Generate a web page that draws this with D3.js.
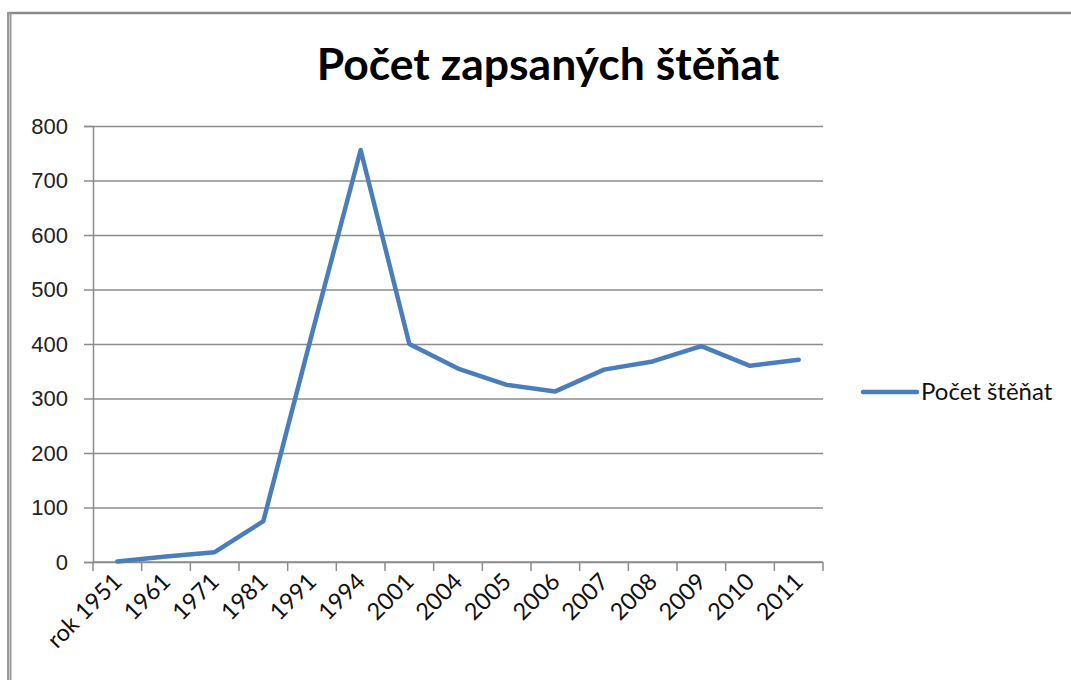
<!DOCTYPE html>
<html>
<head>
<meta charset="utf-8">
<script src="https://cdn.jsdelivr.net/npm/d3@7"></script>
<style>
  body { margin: 0; background: #fff; }
  svg { display: block; }
</style>
</head>
<body>
<svg id="chart"></svg>
<script>
// data
const years = ["rok 1951", "1961", "1971", "1981", "1991", "1994", "2001", "2004",
               "2005", "2006", "2007", "2008", "2009", "2010", "2011"];
const puppies = [1, 10, 18, 75, 419, 756, 400, 355, 325, 313, 353, 368, 396, 360, 371];
const yTicks = [0, 100, 200, 300, 400, 500, 600, 700, 800];
const seriesName = "Počet štěňat";
const title = "Počet zapsaných štěňat";

const width = 1071, height = 680;
const margin = { top: 126, right: 248, bottom: 118, left: 93 };
const blue = "#4a7ebb";
const grid = "#8c8c8c";

const svg = d3.select("#chart")
    .attr("width", width)
    .attr("height", height);

// frame of the chart area
svg.append("line").attr("x1", 9).attr("x2", width).attr("y1", 13).attr("y2", 13)
    .attr("stroke", "#8a8a8a").attr("stroke-width", 2.5);
svg.append("line").attr("x1", 10.5).attr("x2", 10.5).attr("y1", 12).attr("y2", height)
    .attr("stroke", "#9a9a9a").attr("stroke-width", 2);
svg.append("line").attr("x1", 8).attr("x2", 8).attr("y1", 12).attr("y2", height)
    .attr("stroke", "#333").attr("stroke-width", 1);

svg.append("text")
    .attr("x", 548)
    .attr("y", 80)
    .attr("text-anchor", "middle")
    .style("font-family", "Lato, 'Open Sans', sans-serif")
    .style("font-weight", "bold")
    .style("font-size", "44.5px")
    .text(title);

const x = d3.scaleBand()
    .domain(years)
    .range([margin.left, width - margin.right]);

const y = d3.scaleLinear()
    .domain([0, 800])
    .range([height - margin.bottom, margin.top]);

// horizontal gridlines + y axis
const yAxis = svg.append("g")
    .attr("transform", `translate(${margin.left},0)`)
    .call(d3.axisLeft(y).tickValues(yTicks).tickSize(9).tickPadding(16));
yAxis.select(".domain").attr("stroke", grid).attr("stroke-width", 1.5);
yAxis.selectAll(".tick line").attr("stroke", grid).attr("stroke-width", 1.5);
yAxis.selectAll(".tick").append("line")
    .attr("x1", 0)
    .attr("x2", width - margin.right - margin.left)
    .attr("stroke", grid).attr("stroke-width", 1.5);
yAxis.selectAll(".tick text")
    .attr("fill", "#222")
    .style("font-family", "'Liberation Sans', Arial, sans-serif")
    .style("font-size", "22px");

// x axis with ticks at band edges
const xAxis = svg.append("g")
    .attr("transform", `translate(0,${y(0)})`);
xAxis.append("line")
    .attr("x1", margin.left).attr("x2", width - margin.right)
    .attr("stroke", grid).attr("stroke-width", 1.5);
const edges = years.map(d => x(d)).concat([x(years[years.length - 1]) + x.bandwidth()]);
xAxis.selectAll(".edge")
    .data(edges)
    .enter().append("line")
    .attr("class", "edge")
    .attr("x1", d => d).attr("x2", d => d)
    .attr("y1", 0).attr("y2", 9)
    .attr("stroke", grid).attr("stroke-width", 1.5);
xAxis.selectAll(".lbl")
    .data(years)
    .enter().append("text")
    .attr("class", "lbl")
    .attr("text-anchor", "end")
    .attr("transform", d => `translate(${x(d) + x.bandwidth() / 2 + 6},${21}) rotate(-45)`)
    .attr("fill", "#111")
    .style("font-family", "Lato, 'Open Sans', sans-serif")
    .style("font-size", "23.5px")
    .text(d => d);

// the series
const line = d3.line()
    .x((d, i) => x(years[i]) + x.bandwidth() / 2)
    .y(d => y(d));

svg.append("path")
    .datum(puppies)
    .attr("d", line)
    .attr("fill", "none")
    .attr("stroke", blue)
    .attr("stroke-width", 4.5)
    .attr("stroke-linejoin", "round")
    .attr("stroke-linecap", "round");

// legend
const legend = svg.append("g").attr("transform", "translate(863,392)");
legend.append("line")
    .attr("x1", 0).attr("x2", 54)
    .attr("stroke", blue).attr("stroke-width", 4.5)
    .attr("stroke-linecap", "round");
legend.append("text")
    .attr("x", 58)
    .attr("y", 8)
    .attr("fill", "#111")
    .style("font-family", "Lato, 'Open Sans', sans-serif")
    .style("font-size", "24px")
    .text(seriesName);
</script>
</body>
</html>
